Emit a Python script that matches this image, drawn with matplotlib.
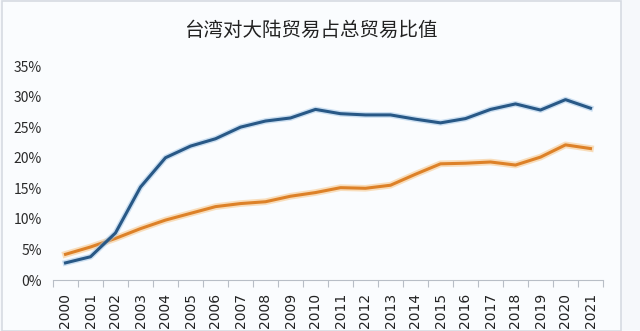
import matplotlib.pyplot as plt
import matplotlib.patheffects as pe
from matplotlib.patches import Rectangle
import numpy as np

plt.rcParams['font.family'] = ['Noto Sans CJK SC', 'DejaVu Sans']

years = [str(y) for y in range(2000, 2022)]
# share of Taiwan's total trade with mainland China (%)
blue_vals = [2.8, 3.8, 7.7, 15.2, 20.0, 21.9, 23.1, 25.0, 26.0, 26.5, 27.9,
             27.2, 27.0, 27.0, 26.3, 25.7, 26.4, 27.9, 28.8, 27.8, 29.5, 28.1]
orange_vals = [4.2, 5.4, 6.8, 8.4, 9.8, 10.9, 12.0, 12.5, 12.8, 13.7, 14.3,
               15.1, 15.0, 15.5, 17.3, 19.0, 19.1, 19.3, 18.8, 20.1, 22.1, 21.5]
y_ticks = [0, 5, 10, 15, 20, 25, 30, 35]

fig = plt.figure(figsize=(6.4, 3.31), dpi=100, facecolor="#f6f8fb")
# chart frame
fig.patches.append(Rectangle((2 / 640, 0), 619 / 640, 330 / 331, transform=fig.transFigure,
                             facecolor="#fafcfe", edgecolor="#d6dbe2", linewidth=1.2, zorder=-5))

ax = fig.add_axes([53 / 640, 51 / 331, 550 / 640, 214 / 331])
ax.set_facecolor("none")
ax.set_zorder(2)

x = np.arange(len(years))
glow_o = [pe.Stroke(linewidth=4.8, foreground="#f7c98f", alpha=0.6), pe.Normal()]
glow_b = [pe.Stroke(linewidth=4.2, foreground="#9dc3e6", alpha=0.5), pe.Normal()]
ax.plot(x, orange_vals, color="#dd8128", linewidth=2.2, path_effects=glow_o, zorder=3)
ax.plot(x, blue_vals, color="#285886", linewidth=2.2, path_effects=glow_b, zorder=4)

ax.set_xlim(-0.5, len(years) - 0.5)
ax.set_ylim(0, 35)
ax.set_yticks(y_ticks)
ax.set_yticklabels([f"{v}%" for v in y_ticks], fontsize=10, color="#2a2a2a")
ax.tick_params(axis="y", length=0, pad=8)

ax.set_xticks(x)
ax.set_xticklabels(years, rotation=90, fontsize=10, color="#222222", family="DejaVu Sans")
ax.tick_params(axis="x", length=0, pad=9)
ax.set_xticks(np.arange(-0.5, len(years)), minor=True)
ax.tick_params(axis="x", which="minor", length=5, color="#b8bec6", width=0.8)

for side in ["top", "right", "left"]:
    ax.spines[side].set_visible(False)
ax.spines["bottom"].set_color("#b8bec6")
ax.spines["bottom"].set_linewidth(0.8)

fig.text(311 / 640, 1 - 30 / 331, "台湾对大陆贸易占总贸易比值", ha="center", va="center",
         fontsize=14, color="#222222")

fig.savefig("out.png", dpi=100, facecolor=fig.get_facecolor())
